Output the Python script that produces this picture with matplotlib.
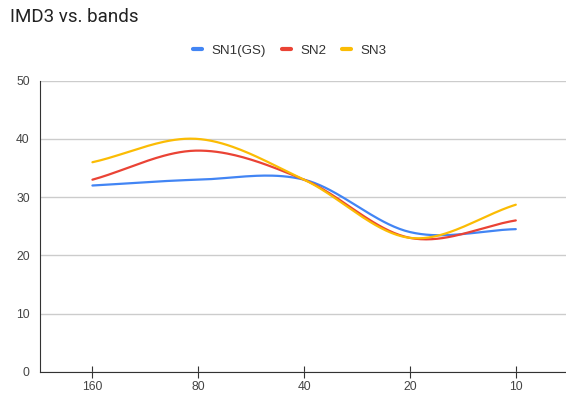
import numpy as np
from matplotlib import pyplot as plt

plt.rcParams['font.family'] = ['Liberation Sans', 'DejaVu Sans']

bands = ['160', '80', '40', '20', '10']
sn1 = [32, 33, 33, 24, 24.5]
sn2 = [33, 38, 33, 23, 26]
sn3 = [36, 40, 33, 23, 28.7]

series = [
    ('SN1(GS)', sn1, '#4285F4'),
    ('SN2', sn2, '#EA4335'),
    ('SN3', sn3, '#FBBC04'),
]


def smooth(y, n=40):
    # catmull-rom style hermite curve through the points
    y = np.asarray(y, dtype=float)
    x = np.arange(len(y))
    m = np.zeros_like(y)
    m[1:-1] = (y[2:] - y[:-2]) / 2
    m[0] = y[1] - y[0]
    m[-1] = y[-1] - y[-2]
    xs, ys = [], []
    for i in range(len(y) - 1):
        t = np.linspace(0, 1, n, endpoint=(i == len(y) - 2))
        h00 = 2*t**3 - 3*t**2 + 1
        h10 = t**3 - 2*t**2 + t
        h01 = -2*t**3 + 3*t**2
        h11 = t**3 - t**2
        xs.append(x[i] + t)
        ys.append(h00*y[i] + h10*m[i] + h01*y[i+1] + h11*m[i+1])
    return np.concatenate(xs), np.concatenate(ys)


fig = plt.figure(figsize=(5.66, 3.96), dpi=100)
ax = fig.add_axes([0.0698, 0.0614, 0.935, 0.7346])

for name, vals, col in series:
    xs, ys = smooth(vals)
    ax.plot(xs, ys, color=col, lw=1.6, label=name, solid_capstyle='round')

ax.set_xlim(-0.5, 4.5)
ax.set_ylim(0, 50)
ax.set_yticks(range(0, 51, 10))
ax.set_xticks(range(len(bands)))
ax.set_xticklabels(bands)
ax.grid(axis='y', color='#cccccc', lw=1)
ax.set_axisbelow(True)
for s in ['top', 'right']:
    ax.spines[s].set_visible(False)
ax.spines['left'].set_color('#333333')
ax.spines['bottom'].set_color('#333333')
ax.tick_params(axis='y', length=0, pad=7, labelsize=8.7, labelcolor='#444444')
ax.tick_params(axis='x', direction='inout', length=8, width=0.8, color='#333333',
               labelsize=8.7, labelcolor='#444444', pad=3)

fig.text(0.018, 0.945, 'IMD3 vs. bands', fontsize=13.5, color='#222222', va='baseline',
         family=['Roboto', 'DejaVu Sans'])

handles, labels = ax.get_legend_handles_labels()
leg = fig.legend(handles, labels, loc='center', bbox_to_anchor=(0.512, 0.872), ncol=3,
                 frameon=False, fontsize=9.6, handlelength=0.7, handletextpad=0.7,
                 columnspacing=1.15)
for h in leg.legend_handles:
    h.set_linewidth(3)
for t in leg.get_texts():
    t.set_color('#333333')

fig.savefig('out.png', dpi=100)
